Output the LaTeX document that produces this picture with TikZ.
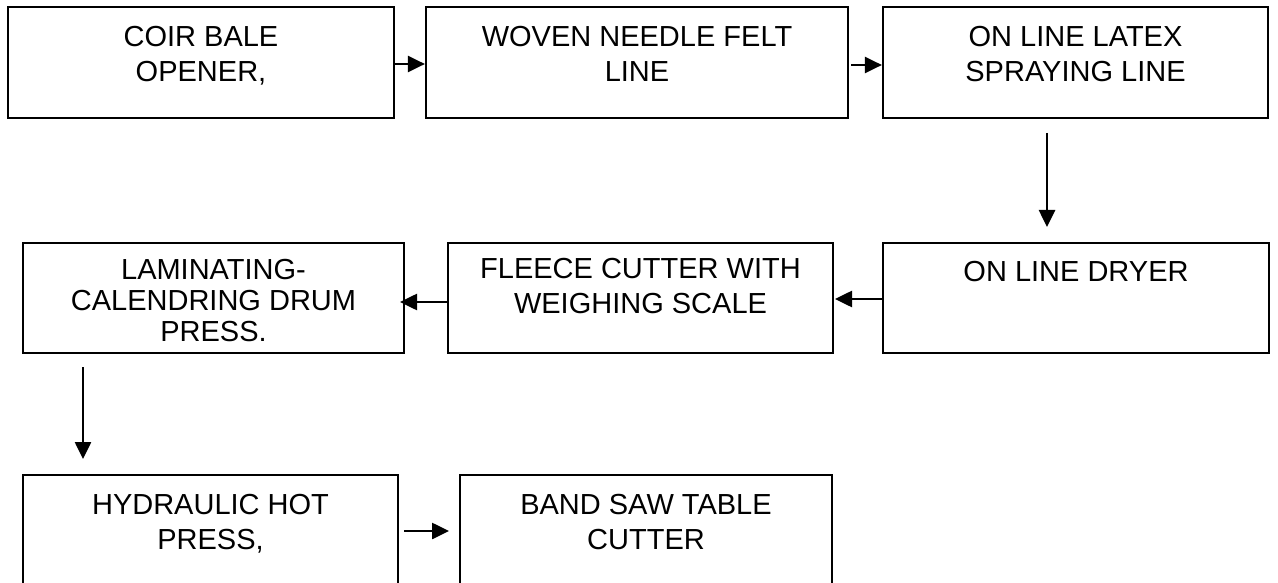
\documentclass[tikz,border=0pt]{standalone}
\usepackage{fontspec}
\setmainfont{Liberation Sans}
\usetikzlibrary{arrows.meta}
\begin{document}
\begin{tikzpicture}[x=1pt,y=-1pt,
  stagebox/.style={draw=black, line width=2.2pt, inner sep=0pt, fill=none},
  stagetext/.style={anchor=north, inner sep=0pt, align=center,
    font=\fontsize{29}{35}\selectfont},
  flow/.style={line width=2.6pt, -{Triangle[length=17pt,width=16pt]}}]
  \clip (0,0) rectangle (1278,583);
  \fill[white] (0,0) rectangle (1278,583);

  % boxes: centre x, centre y, width, height
  \node[stagebox, minimum width=386, minimum height=111] (coir)   at (201,62.5) {};
  \node[stagebox, minimum width=422, minimum height=111] (woven)  at (637,62.5) {};
  \node[stagebox, minimum width=385, minimum height=111] (latex)  at (1075.5,62.5) {};
  \node[stagebox, minimum width=386, minimum height=110] (dryer)  at (1076,298) {};
  \node[stagebox, minimum width=385, minimum height=110] (fleece) at (640.5,298) {};
  \node[stagebox, minimum width=381, minimum height=110] (lamin)  at (213.5,298) {};
  \node[stagebox, minimum width=375, minimum height=160] (hydro)  at (210.5,555) {};
  \node[stagebox, minimum width=372, minimum height=160] (band)   at (646,555) {};

  % labels, top aligned inside each box
  \node[stagetext] (tcoir)   at ([yshift=-20]coir.north)   {COIR BALE\\OPENER,};
  \node[stagetext] (twoven)  at ([yshift=-20]woven.north)  {WOVEN NEEDLE FELT\\LINE};
  \node[stagetext] (tlatex)  at ([yshift=-20]latex.north)  {ON LINE LATEX\\SPRAYING LINE};
  \node[stagetext] (tdryer)  at ([yshift=-19]dryer.north)  {ON LINE DRYER};
  \node[stagetext] (tfleece) at ([yshift=-16]fleece.north) {FLEECE CUTTER WITH\\WEIGHING SCALE};
  \node[stagetext, font=\fontsize{29}{31}\selectfont] (tlamin) at ([yshift=-17]lamin.north)
      {LAMINATING-\\CALENDRING DRUM\\PRESS.};
  \node[stagetext] (thydro)  at ([yshift=-20]hydro.north)  {HYDRAULIC HOT\\PRESS,};
  \node[stagetext] (tband)   at ([yshift=-20]band.north)   {BAND SAW TABLE\\CUTTER};

  % free arrow ends
  \coordinate (a3s) at (1047,133);  \coordinate (a3e) at (1047,227);
  \coordinate (a4e) at (835,299);
  \coordinate (a5e) at (400,302);
  \coordinate (a6s) at (83,367);    \coordinate (a6e) at (83,459);
  \coordinate (a7s) at (404,531);   \coordinate (a7e) at (449,531);

  \draw[flow] (coir.east |- 0,64) -- (woven.west |- 0,64);
  \draw[flow] ([xshift=2]woven.east |- 0,65) -- (latex.west |- 0,65);
  \draw[flow] (a3s) -- (a3e);
  \draw[flow] (dryer.west |- a4e) -- (a4e);
  \draw[flow] (fleece.west |- a5e) -- (a5e);
  \draw[flow] (a6s) -- (a6e);
  \draw[flow] (a7s) -- (a7e);
\end{tikzpicture}
\end{document}
